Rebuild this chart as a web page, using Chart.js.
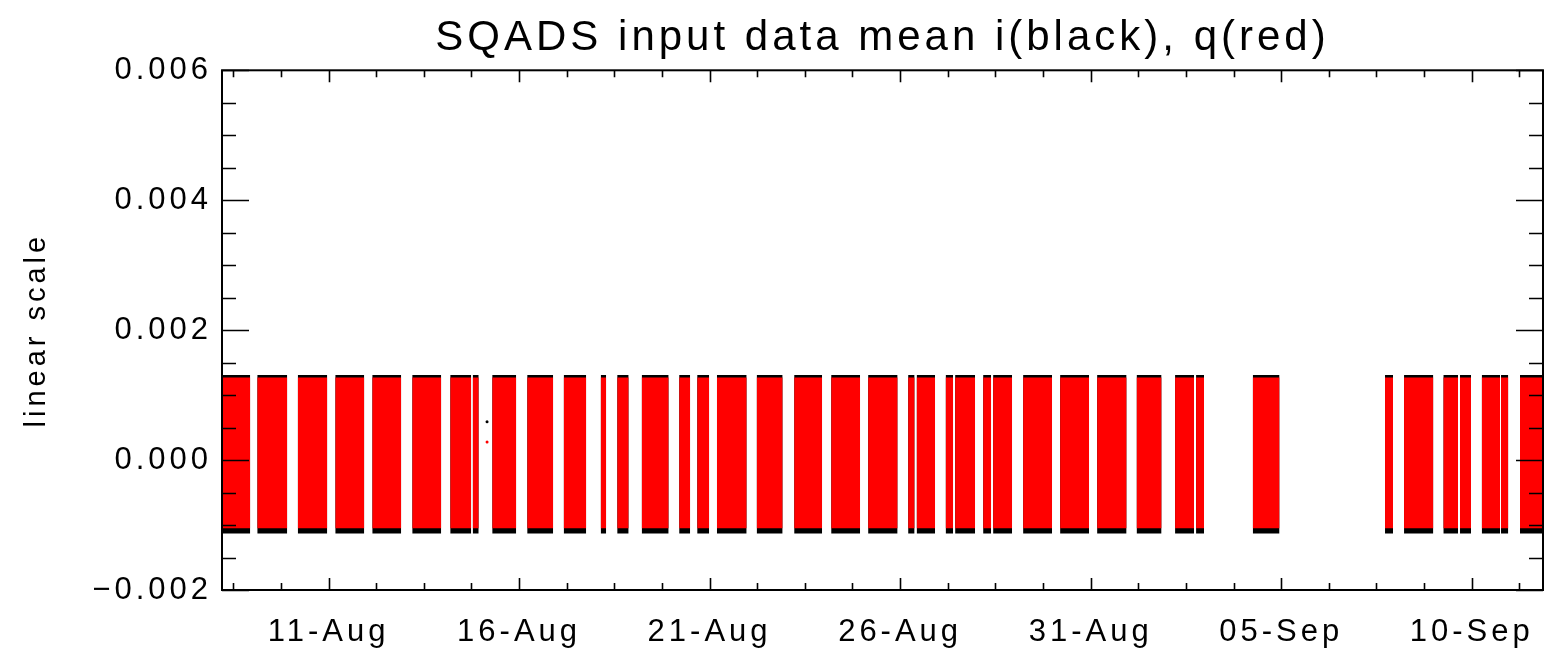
<!DOCTYPE html>
<html>
<head>
<meta charset="utf-8">
<script src="https://cdn.jsdelivr.net/npm/chart.js@4.4.0/dist/chart.umd.min.js"></script>
<style>
html,body{margin:0;padding:0;background:#fff;}
#wrap{width:1550px;height:650px;}
</style>
</head>
<body>
<div id="wrap"><canvas id="c" width="1550" height="650"></canvas></div>
<script>
// ---- text ----
const titleText = 'SQADS input data mean i(black), q(red)';
const yAxisTitle = 'linear scale';

// ---- axes (x in days counted from 0-Aug; 1-Sep = 32) ----
const xMin = 8.204, xMax = 42.871;
const xTickValues = [11, 16, 21, 26, 31, 36, 41];
const xTickLabels = ['11-Aug', '16-Aug', '21-Aug', '26-Aug', '31-Aug', '05-Sep', '10-Sep'];
const xMinorStart = 8.5, xMinorStep = 1.25;
const yMin = -0.002, yMax = 0.006;
const yTickValues = [-0.002, 0, 0.002, 0.004, 0.006];
const yTickLabels = ['\u22120.002', '0.000', '0.002', '0.004', '0.006'];
const yMinorStep = 0.0005;

// ---- data blocks (time spans where data exist) ----
const bandStart = [8.204, 9.129, 10.192, 11.176, 12.147, 13.196, 14.193, 14.783, 15.295, 16.213,
  17.171, 18.142, 18.575, 19.218, 20.201, 20.674, 21.191, 22.235, 23.219, 24.190,
  25.160, 26.210, 26.433, 27.194, 27.443, 28.178, 28.440, 29.227, 30.198, 31.169,
  32.205, 33.215, 33.766, 35.254, 38.725, 39.224, 40.255, 40.693, 41.263, 41.769, 42.267];
const bandEnd = [8.945, 9.916, 10.966, 11.937, 12.907, 13.957, 14.744, 14.941, 15.925, 16.895,
  17.762, 18.286, 18.876, 19.926, 20.490, 20.989, 21.973, 22.917, 23.953, 24.950,
  25.934, 26.380, 26.918, 27.391, 27.968, 28.388, 28.939, 29.988, 30.959, 31.943,
  32.861, 33.714, 33.976, 35.957, 38.935, 39.993, 40.641, 40.982, 41.743, 41.960, 42.871];
// envelope of the mean values in each block
const iTop = 0.00131, iBottom = -0.00113;   // i (black)
const qTop = 0.00127, qBottom = -0.00105;   // q (red)
// isolated samples outside the blocks
const strayI = [{x: 15.16, y: 0.00059}];
const strayQ = [{x: 15.16, y: 0.00028}];

function envelope(top) {
  const pts = [];
  for (let k = 0; k < bandStart.length; k++) {
    pts.push({x: bandStart[k], y: top});
    pts.push({x: bandEnd[k], y: top});
    if (k < bandStart.length - 1) pts.push({x: (bandEnd[k] + bandStart[k + 1]) / 2, y: null});
  }
  return pts;
}

const FONT = 'Liberation Sans';
const LS = '4px';

const spacing = {
  id: 'spacing',
  beforeInit(c) { c.ctx.letterSpacing = LS; },
  beforeUpdate(c) { c.ctx.letterSpacing = LS; },
  beforeLayout(c) { c.ctx.letterSpacing = LS; },
  beforeDraw(c) { c.ctx.letterSpacing = LS; }
};

const frameTicks = {
  id: 'frameTicks',
  afterDatasetsDraw(chart) {
    const {ctx, chartArea: a, scales: {x, y}} = chart;
    ctx.save();
    ctx.strokeStyle = '#000';
    ctx.lineWidth = 1.6;
    ctx.beginPath();
    for (let k = 0; ; k++) {
      const v = xMinorStart + k * xMinorStep;
      if (v > xMax) break;
      const major = xTickValues.some(t => Math.abs(t - v) < 1e-6);
      const len = major ? 12 : 7;
      const px = Math.round(x.getPixelForValue(v)) + 0.5;
      ctx.moveTo(px, a.bottom); ctx.lineTo(px, a.bottom - len);
      ctx.moveTo(px, a.top); ctx.lineTo(px, a.top + len);
    }
    for (let k = 0; ; k++) {
      const v = yMin + k * yMinorStep;
      if (v > yMax + 1e-9) break;
      const major = yTickValues.some(t => Math.abs(t - v) < 1e-9);
      const len = major ? 27 : 14;
      const py = Math.round(y.getPixelForValue(v)) + 0.5;
      ctx.moveTo(a.left, py); ctx.lineTo(a.left + len, py);
      ctx.moveTo(a.right, py); ctx.lineTo(a.right - len, py);
    }
    ctx.stroke();
    ctx.lineWidth = 2;
    ctx.strokeRect(a.left, a.top, a.right - a.left, a.bottom - a.top);
    ctx.restore();
  }
};

new Chart(document.getElementById('c'), {
  type: 'line',
  data: {
    datasets: [
      {
        label: 'i', data: envelope(iTop), order: 2,
        fill: {value: iBottom}, backgroundColor: '#000000',
        borderColor: 'rgba(0,0,0,0)', borderWidth: 0, pointRadius: 0, spanGaps: false, tension: 0
      },
      {
        label: 'q', data: envelope(qTop), order: 1,
        fill: {value: qBottom}, backgroundColor: '#ff0000',
        borderColor: 'rgba(0,0,0,0)', borderWidth: 0, pointRadius: 0, spanGaps: false, tension: 0
      },
      {
        type: 'scatter', label: 'i stray', data: strayI, order: 0,
        showLine: false, pointRadius: 1.5, pointBackgroundColor: '#000', pointBorderWidth: 0
      },
      {
        type: 'scatter', label: 'q stray', data: strayQ, order: 0,
        showLine: false, pointRadius: 1.5, pointBackgroundColor: '#ff0000', pointBorderWidth: 0
      }
    ]
  },
  options: {
    responsive: false,
    animation: false,
    devicePixelRatio: 1,
    layout: {autoPadding: false, padding: {left: 0, right: 7, top: 0, bottom: 0}},
    plugins: {
      legend: {display: false},
      tooltip: {enabled: false},
      title: {
        display: true, text: titleText, fullSize: false, color: '#000',
        font: {family: FONT, size: 42, weight: 'normal', lineHeight: 1.15},
        padding: {top: 14, bottom: 8}
      }
    },
    scales: {
      x: {
        type: 'linear', min: xMin, max: xMax,
        grid: {display: false, drawTicks: false},
        border: {display: false},
        afterBuildTicks(s) { s.ticks = xTickValues.map(v => ({value: v})); },
        afterFit(s) { s.height = 60; s.paddingLeft = 0; s.paddingRight = 0; },
        ticks: {
          autoSkip: false, maxRotation: 0, minRotation: 0, padding: 24, color: '#000',
          font: {family: FONT, size: 31, lineHeight: 1.2},
          callback: (v, i) => xTickLabels[i]
        }
      },
      y: {
        type: 'linear', min: yMin, max: yMax,
        grid: {display: false, drawTicks: false},
        border: {display: false},
        afterBuildTicks(s) { s.ticks = yTickValues.map(v => ({value: v})); },
        afterFit(s) { s.width = 222; s.paddingTop = 0; s.paddingBottom = 0; },
        ticks: {
          autoSkip: false, padding: 10, color: '#000',
          font: {family: FONT, size: 31},
          callback: (v, i) => yTickLabels[i]
        },
        title: {
          display: true, text: yAxisTitle, color: '#000',
          font: {family: FONT, size: 29, lineHeight: 1.2},
          padding: {top: 20, bottom: 0}
        }
      }
    }
  },
  plugins: [spacing, frameTicks]
});
</script>
</body>
</html>
